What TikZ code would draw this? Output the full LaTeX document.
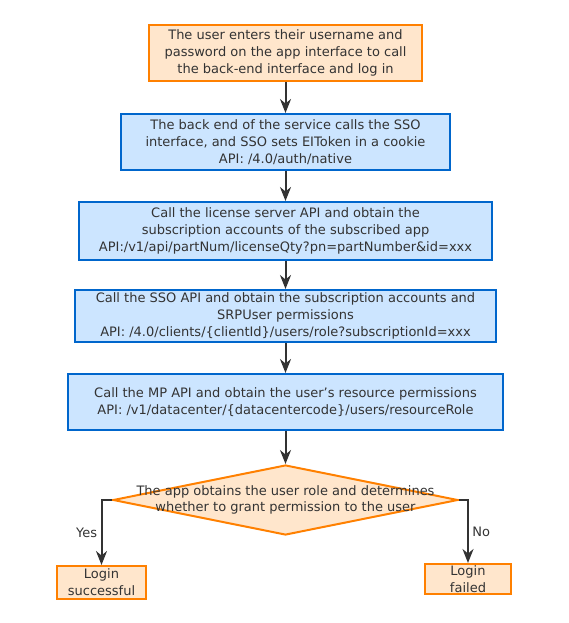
\documentclass[tikz,border=0pt]{standalone}
\usepackage{fontspec}
\setmainfont{DejaVu Sans}
\usetikzlibrary{positioning}
\usetikzlibrary{shapes.geometric}
\usetikzlibrary{arrows.meta}
\definecolor{orangeline}{HTML}{FF8000}
\definecolor{orangefill}{HTML}{FFE6CC}
\definecolor{blueline}{HTML}{0066CC}
\definecolor{bluefill}{HTML}{CCE5FF}
\definecolor{darkgray}{HTML}{333333}
\tikzset{node distance=30pt,
    every node/.style={
        text=darkgray,
        font=\fontsize{13}{17}\selectfont},
    terminal/.style={
        draw=orangeline,
        fill=orangefill,
        line width=2pt,
        align=center,
        inner sep=1pt},
    process/.style={
        draw=blueline,
        fill=bluefill,
        line width=2pt,
        align=center,
        inner sep=1pt},
    decision/.style={
        diamond,
        draw=orangeline,
        fill=orangefill,
        line width=2pt,
        inner sep=0pt,
        minimum width=345pt,
        minimum height=70pt},
    flow/.style={
        draw=darkgray,
        line width=2pt,
        -{Stealth[length=14pt,width=11pt]}}}

\begin{document}
\begin{tikzpicture}[x=1pt,y=1pt]
        \useasboundingbox (0,0) rectangle (568,-623);

        \node[terminal,minimum width=273pt,minimum height=56pt] (1) at (285.5,-53) {The user enters their username and\\password on the app interface to call\\the back-end interface and log in};
        \node[process,minimum width=329pt,minimum height=56pt,below=31pt of 1] (2) {The back end of the service calls the SSO\\interface, and SSO sets EIToken in a cookie\\API: /4.0/auth/native};
        \node[process,minimum width=413pt,minimum height=58pt,below=30pt of 2] (3) {Call the license server API and obtain the\\subscription accounts of the subscribed app\\API:/v1/api/partNum/licenseQty?pn=partNumber\&id=xxx};
        \node[process,minimum width=421pt,minimum height=52pt,below=28pt of 3] (4) {Call the SSO API and obtain the subscription accounts and\\SRPUser permissions\\API: /4.0/clients/\{clientId\}/users/role?subscriptionId=xxx};
        \node[process,minimum width=435pt,minimum height=56pt,below=30pt of 4] (5) {Call the MP API and obtain the user's resource permissions\\API: /v1/datacenter/\{datacentercode\}/users/resourceRole};
        \node[decision,below=33pt of 5,label={[align=center,font=\fontsize{13}{16.5}\selectfont]center:The app obtains the user role and determines\\whether to grant permission to the user}] (6) {};
        \node[terminal,minimum width=89pt,minimum height=33pt,inner sep=0pt,below=65pt of 6.west,xshift=-10.5pt] (7) {Login\\successful};
        \node[terminal,minimum width=86pt,minimum height=30pt,inner sep=0pt,below=63pt of 6.east,xshift=9pt] (8) {Login\\failed};

        \draw[flow] (1) -- (2);
        \draw[flow] (2) -- (3);
        \draw[flow] (3) -- (4);
        \draw[flow] (4) -- (5);
        \draw[flow] (5) -- (6);
        \draw[flow] (6.west) -| node[pos=0.75,left] {Yes} (7);
        \draw[flow] (6.east) -| node[pos=0.75,right] {No} (8);
    \end{tikzpicture}
\end{document}
